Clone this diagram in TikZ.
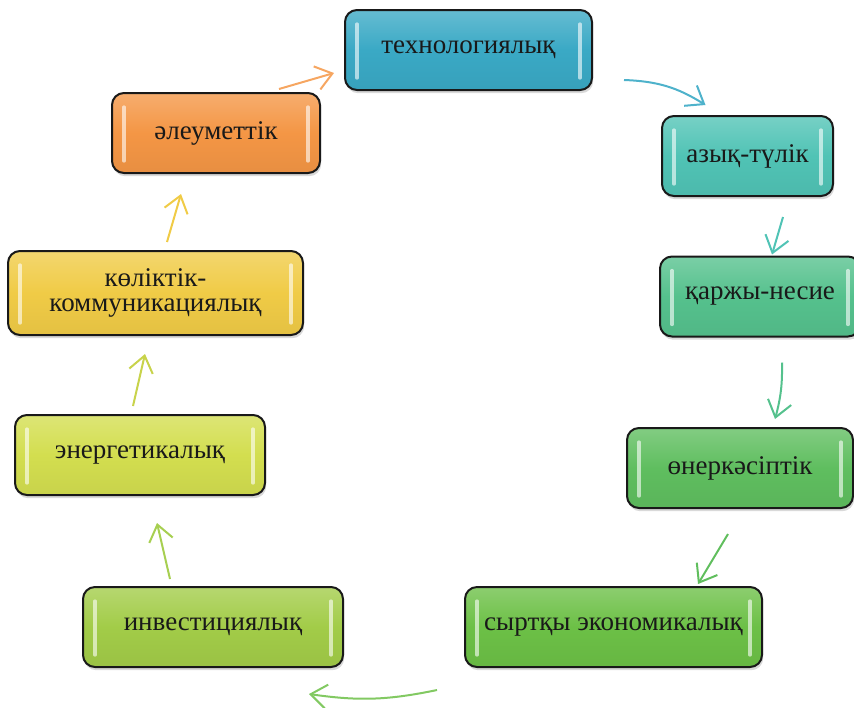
\documentclass[tikz,border=0pt]{standalone}
\usepackage{fontspec}
\setmainfont{Liberation Serif}
\usetikzlibrary{arrows.meta,shadows,calc}

\definecolor{techblue}{HTML}{3AA9C5}
\definecolor{foodteal}{HTML}{50C3B5}
\definecolor{fingreen}{HTML}{55C18D}
\definecolor{indgreen}{HTML}{5FBE5F}
\definecolor{extgreen}{HTML}{6CC046}
\definecolor{invgreen}{HTML}{A2CC48}
\definecolor{enyellow}{HTML}{D3DE4F}
\definecolor{trnyellow}{HTML}{F0CB46}
\definecolor{socorange}{HTML}{F49645}

\begin{document}
\begin{tikzpicture}[x=0.5pt,y=-0.5pt,
  box/.style={draw=black!90, line width=1pt, rounded corners=6pt,
    minimum height=40pt, inner sep=2pt, align=center, text=black!90,
    font=\fontsize{13.5}{12.5}\selectfont,
    top color=#1!78!white, bottom color=#1!95!black, middle color=#1,
    drop shadow={shadow xshift=0.6pt, shadow yshift=-1.6pt, opacity=0.3},
    path picture={
      \draw[white, opacity=0.6, line width=1.6pt, line cap=round]
        ([xshift=6pt,yshift=-7pt]path picture bounding box.north west)
        -- ([xshift=6pt,yshift=6pt]path picture bounding box.south west);
      \draw[white, opacity=0.6, line width=1.6pt, line cap=round]
        ([xshift=-6pt,yshift=-7pt]path picture bounding box.north east)
        -- ([xshift=-6pt,yshift=6pt]path picture bounding box.south east);
    }},
  arr/.style={draw=#1, line width=1pt,
    -{Straight Barb[length=8pt,width=12pt,line width=1pt]}}]

  \useasboundingbox (0,0) rectangle (854,707);

  % the nine boxes round the ring
  \node[box=techblue, minimum width=123.5pt] (tech) at (468.5,50) {технологиялық};
  \node[box=foodteal, minimum width=85.5pt] (food) at (747.5,156) {азық-түлік};
  \node[box=fingreen, minimum width=100pt] (fin) at (760,296.5) {қаржы-несие};
  \node[box=indgreen, minimum width=113pt] (ind) at (740,468) {өнеркәсіптік};
  \node[box=extgreen, minimum width=148.5pt] (ext) at (613.5,627) {сыртқы экономикалық};
  \node[box=invgreen, minimum width=130pt] (inv) at (213,627) {инвестициялық};
  \node[box=enyellow, minimum width=125pt] (energy) at (140,455) {энергетикалық};
  \node[box=trnyellow, minimum width=147.5pt, minimum height=42pt] (transp) at (155.5,293)
    {көліктік-\\коммуникациялық};
  \node[box=socorange, minimum width=104pt] (social) at (216,133) {әлеуметтік};

  % arrows between them
  \draw[arr=socorange!85!white] ($(social.north east)+(-42,-3)$) -- ($(tech.west)+(-10,23)$);
  \draw[arr=techblue!90!white] ($(tech.east)+(31,30)$) to[bend left=15] ($(food.north)+(-42,-10)$);
  \draw[arr=foodteal] ($(food.south)+(35.5,20)$) -- ($(fin.north)+(12,-1)$);
  \draw[arr=fingreen] ($(fin.south)+(22,25)$) to[bend left=8] ($(ind.north)+(35,-8)$);
  \draw[arr=indgreen!90!extgreen] ($(ind.south)+(-12,25)$) -- ($(ext.north)+(84.5,-2)$);
  \draw[arr=extgreen!85!white] ($(ext.south west)+(-27,22)$) to[bend left=10] ($(inv.south east)+(-35,26)$);
  \draw[arr=invgreen!95!white] ($(inv.north)+(-43,-7)$) -- ($(energy.south)+(17,27)$);
  \draw[arr=enyellow!95!black] ($(energy.north)+(-7,-8)$) -- ($(transp.south)+(-10.5,18)$);
  \draw[arr=trnyellow] ($(transp.north)+(11.5,-8)$) -- ($(social.south)+(-35,20)$);

\end{tikzpicture}
\end{document}
